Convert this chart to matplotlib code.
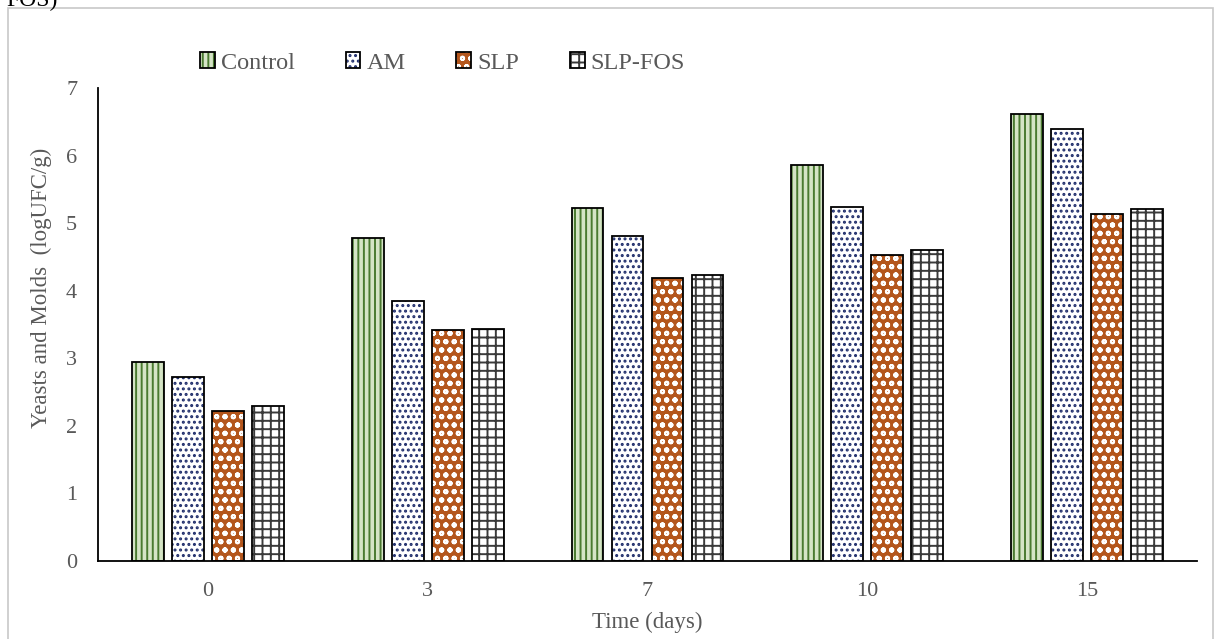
import numpy as np
import matplotlib.pyplot as plt
from matplotlib.patches import Rectangle, Patch

plt.rcParams['font.family'] = ['Liberation Serif', 'DejaVu Serif']
plt.rcParams['hatch.linewidth'] = 1.4

days = ['0', '3', '7', '10', '15']
control = [2.94, 4.78, 5.22, 5.86, 6.61]
am = [2.72, 3.85, 4.81, 5.24, 6.39]
slp = [2.22, 3.42, 4.19, 4.53, 5.13]
slp_fos = [2.29, 3.43, 4.23, 4.60, 5.21]

series = [
    ('Control', control, '#d5e4c6', '#4a7a30', '|||'),
    ('AM', am, 'white', '#1f2d6b', '...'),
    ('SLP', slp, '#b4561c', 'white', 'oo'),
    ('SLP-FOS', slp_fos, 'white', '#3a3a3a', '++'),
]

grey = '#595959'
fig = plt.figure(figsize=(12.16, 6.39), dpi=100)
ax = fig.add_axes([98 / 1216, 1 - 561 / 639, 1099 / 1216, 473 / 639])

x = np.arange(len(days))
step = 0.182
width = 0.145
handles = []
for i, (name, vals, face, hcol, hatch) in enumerate(series):
    pos = x + (i - 1.5) * step
    ax.bar(pos, vals, width, color=face, edgecolor=hcol, hatch=hatch, linewidth=0)
    ax.bar(pos, vals, width, fill=False, edgecolor='black', linewidth=1.3)
    # hatched fill plus black outline for the legend key
    handles.append((Patch(facecolor=face, edgecolor=hcol, hatch=hatch, linewidth=0),
                    Patch(fill=False, edgecolor='black', linewidth=1.3)))

ax.set_xlim(-0.5, 4.5)
ax.set_ylim(0, 7)
ax.set_yticks(range(8))
ax.set_xticks(x)
ax.set_xticklabels(days)
ax.tick_params(length=0, labelsize=16, labelcolor=grey)
ax.tick_params(axis='y', pad=15)
ax.tick_params(axis='x', pad=15)
for s in ['top', 'right']:
    ax.spines[s].set_visible(False)
for s in ['left', 'bottom']:
    ax.spines[s].set_linewidth(1.3)
ax.set_xlabel('Time (days)', fontsize=16.5, color=grey, labelpad=8)
ax.set_ylabel('Yeasts and Molds  (logUFC/g)', fontsize=16.5, color=grey)
ax.yaxis.set_label_coords(-0.042, 0.577)

ax.legend(handles, [s[0] for s in series], loc='lower left', bbox_to_anchor=(0.084, 1.01),
          ncol=4, frameon=False, fontsize=17.5, handlelength=0.6, handleheight=0.6,
          handletextpad=0.25, columnspacing=2.1, labelcolor=grey, borderaxespad=0)

fig.patches.append(Rectangle((8 / 1216, -0.01), 1205 / 1216, 1 - 8 / 639 + 0.01,
                             transform=fig.transFigure, fill=False, edgecolor='#c8c8c8', linewidth=1.2))
fig.text(0.005, 1.0, 'FOS)', fontsize=17, va='center', ha='left')

fig.savefig('out.png', dpi=100)
